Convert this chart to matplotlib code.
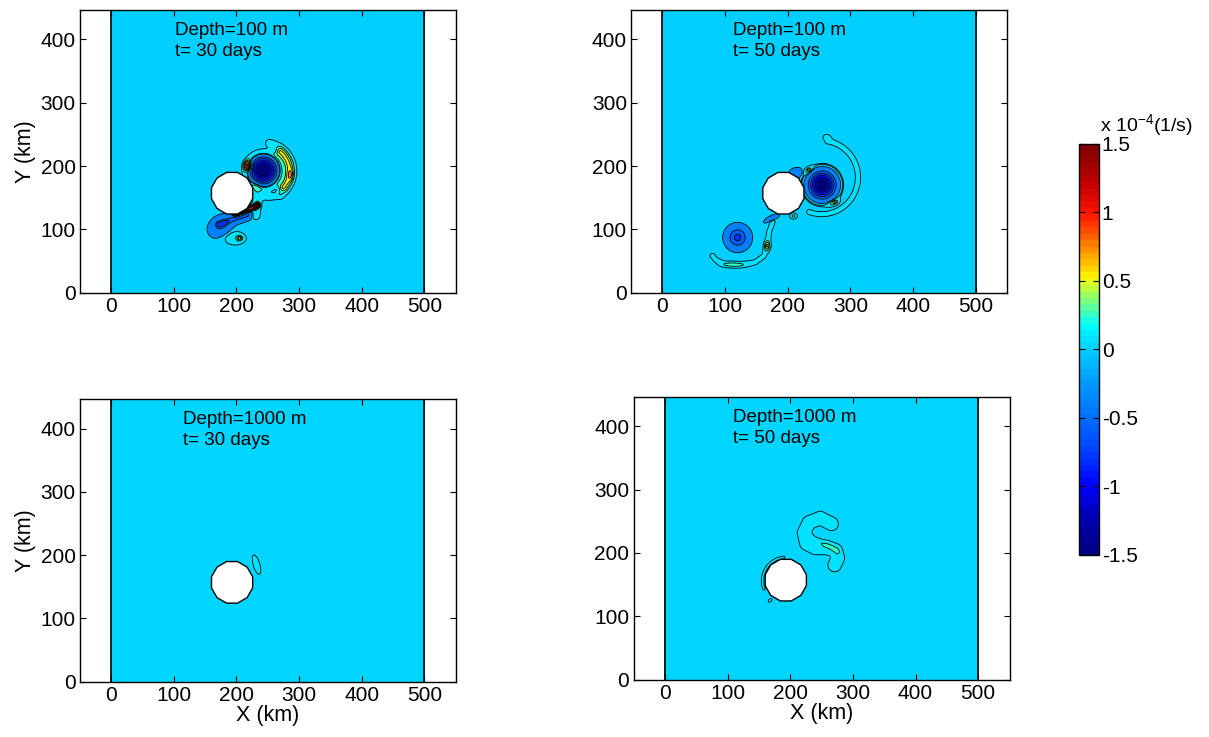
import numpy as np
import matplotlib
matplotlib.use('Agg')
import matplotlib.pyplot as plt
from matplotlib.colors import LinearSegmentedColormap, Normalize
from matplotlib.patches import RegularPolygon
import matplotlib.colorbar as mcolorbar

plt.rcParams['font.family'] = ['Liberation Sans', 'DejaVu Sans']
plt.rcParams['mathtext.fontset'] = 'custom'
plt.rcParams['mathtext.rm'] = 'Liberation Sans'
plt.rcParams['mathtext.default'] = 'regular'

# ---- data (vorticity in 1e-4 1/s, positions in km) ----
depth_labels = ['Depth=100 m', 'Depth=100 m', 'Depth=1000 m', 'Depth=1000 m']
time_labels = ['t= 30 days', 't= 50 days', 't= 30 days', 't= 50 days']
label_x = [102, 112, 114, 109]
# colour value of the quiet background in each panel
background = [0.01, 0.01, 0.03, 0.03]

island_xy = (193, 157)
island_r = 34

# contour levels; each band is filled with the colour of one value
levels = [-1.6, -1.3, -1.05, -0.8, -0.6, -0.4, -0.02, 0.08, 0.25, 0.4, 0.55,
          0.75, 0.95, 1.2, 1.6]
band_values = [-1.5, -1.3, -1.05, -0.8, -0.6, -0.4, None, 0.08, 0.25, 0.4, 0.55,
               0.75, 0.95, 1.2]

# blobs: x, y, sx, sy, angle, amplitude, shape exponent
blobs_100_30 = [
    (243, 193, 14, 14, 0, -1.5, 1),
    (218, 200, 4, 5, 0, 1.0, 1),
    (286, 186, 3, 6, 0, 0.3, 1),
    (176, 104, 10, 8, 30, -0.35, 1),
    (198, 86, 13, 8, 0, 0.2, 1),
    (205, 86, 3, 2.5, 0, 0.5, 1),
    (252, 152, 12, 5, 0, 0.18, 1),
]
# strands: list of points, half width, amplitude
strands_100_30 = [
    ([(172, 108), (195, 116), (218, 123)], 4, -0.5),
    ([(198, 124), (216, 130), (234, 138)], 2.5, 1.1),
    ([(232, 168), (233, 145), (231, 122)], 5, 0.2),
]
# arcs: cx, cy, radius, angle from, angle to, half width, amplitude
arcs_100_30 = [
    (245, 192, 44, -55, 80, 5, 0.2),
    (245, 192, 38, -40, 50, 5, 0.5),
    (243, 193, 29, 0, 360, 4, 0.35),
]

blobs_100_50 = [
    (255, 170, 14, 14, 0, -1.45, 1),
    (233, 193, 5, 3.5, 30, 0.25, 1),
    (234, 194, 2, 1.5, 0, 0.25, 1),
    (274, 142, 6, 3, 20, 0.3, 1),
    (275, 143, 2, 1.5, 0, 0.2, 1),
    (214, 189, 5, 3.5, 0, -0.35, 1),
    (120, 87, 12.6, 12.6, 0, -0.62, 1.5),
    (113, 44, 14, 3, 0, 0.2, 1),
    (167, 74, 3, 5, 0, 0.45, 1),
    (174, 117, 6, 2, 25, -0.3, 1),
    (209, 121, 4, 3, 0, 0.3, 1),
    (262, 246, 6, 4, 0, 0.12, 1),
]
strands_100_50 = [
    ([(176, 112), (170, 95), (168, 75), (162, 58), (148, 48), (125, 44),
      (100, 45), (85, 52), (80, 58)], 3.5, 0.15),
]
arcs_100_50 = [
    (254, 182, 58, -110, 80, 4, 0.14),
    (255, 170, 32, 0, 360, 4, 0.18),
]

blobs_1000_30 = [
    (232, 185, 5, 15, 16.5, 0.14, 1),
]
strands_1000_30 = []
arcs_1000_30 = []

blobs_1000_50 = [
    (168, 125, 4, 2.5, 40, 0.12, 1),
]
strands_1000_50 = [
    ([(266, 246), (248, 255), (230, 248), (222, 232), (226, 215), (240, 208),
      (258, 208), (272, 204), (276, 192), (271, 181)], 8, 0.2),
    ([(234, 224), (248, 217), (264, 211), (276, 203)], 3.5, 0.12),
]
arcs_1000_50 = [
    (193, 156, 37, 95, 200, 2.5, 0.11),
]

panels = [
    (blobs_100_30, strands_100_30, arcs_100_30),
    (blobs_100_50, strands_100_50, arcs_100_50),
    (blobs_1000_30, strands_1000_30, arcs_1000_30),
    (blobs_1000_50, strands_1000_50, arcs_1000_50),
]

# colours (position 0..1, rgb 0..255)
cb_pos = [0, 0.087, 0.167, 0.257, 0.333, 0.427, 0.5, 0.56, 0.597, 0.633,
          0.665, 0.68, 0.743, 0.79, 0.833, 0.913, 1]
cb_rgb = [(0, 0, 130), (0, 0, 180), (0, 0, 255), (0, 70, 255), (0, 110, 255),
          (0, 160, 255), (0, 205, 255), (0, 255, 255), (80, 255, 170),
          (150, 255, 100), (220, 255, 30), (255, 240, 0), (255, 150, 0),
          (255, 80, 0), (255, 20, 0), (190, 0, 0), (130, 0, 0)]

cb_ticks = [-1.5, -1, -0.5, 0, 0.5, 1, 1.5]
cb_ticklabels = ['-1.5', '-1', '-0.5', '0', '0.5', '1', '1.5']


def seg_dist(X, Y, p1, p2):
    dx, dy = p2[0] - p1[0], p2[1] - p1[1]
    t = np.clip(((X - p1[0]) * dx + (Y - p1[1]) * dy) / (dx * dx + dy * dy), 0, 1)
    return np.hypot(X - (p1[0] + t * dx), Y - (p1[1] + t * dy))


def strand(X, Y, pts, w, amp):
    d = np.full(X.shape, np.inf)
    for a, b in zip(pts[:-1], pts[1:]):
        d = np.minimum(d, seg_dist(X, Y, a, b))
    return amp * np.exp(-0.5 * (d / w) ** 2)


def build_field(X, Y, blobs, strands, arcs):
    Z = np.zeros(X.shape)
    for x0, y0, sx, sy, ang, amp, p in blobs:
        t = np.deg2rad(ang)
        u = (X - x0) * np.cos(t) + (Y - y0) * np.sin(t)
        v = -(X - x0) * np.sin(t) + (Y - y0) * np.cos(t)
        Z += amp * np.exp(-0.5 * ((u / sx) ** 2 + (v / sy) ** 2) ** p)
    for pts, w, amp in strands:
        Z += strand(X, Y, pts, w, amp)
    for cx, cy, r, a1, a2, w, amp in arcs:
        th = np.deg2rad(np.linspace(a1, a2, 60))
        pts = list(zip(cx + r * np.cos(th), cy + r * np.sin(th)))
        Z += strand(X, Y, pts, w, amp)
    return Z


anchors = [(p, tuple(c / 255 for c in rgb)) for p, rgb in zip(cb_pos, cb_rgb)]
cmap_bar = LinearSegmentedColormap.from_list('vort64', anchors, N=64)
cmap_fill = LinearSegmentedColormap.from_list('vort', anchors, N=256)
norm = Normalize(-1.5, 1.5)

x = np.arange(0, 501, 1.0)
y = np.arange(0, 447, 1.0)
X, Y = np.meshgrid(x, y)

fig = plt.figure(figsize=(12.09, 7.37), dpi=100)
positions = [[0.066, 0.603, 0.311, 0.383],
             [0.522, 0.603, 0.311, 0.383],
             [0.066, 0.075, 0.311, 0.383],
             [0.524, 0.078, 0.311, 0.383]]

for i, (blobs, strands, arcs) in enumerate(panels):
    ax = fig.add_axes(positions[i])
    Z = build_field(X, Y, blobs, strands, arcs)
    band_colors = [cmap_fill(norm(background[i] if v is None else v))
                   for v in band_values]
    ax.contourf(X, Y, Z, levels=levels, colors=band_colors)
    ax.contour(X, Y, Z, levels=levels, colors='k', linewidths=0.6,
               linestyles='solid')
    ax.plot([0, 0], [0, 446], color='k', lw=1.2)
    ax.plot([500, 500], [0, 446], color='k', lw=1.2)
    ax.add_patch(RegularPolygon(island_xy, numVertices=12, radius=island_r,
                                orientation=np.pi / 12, facecolor='white',
                                edgecolor='k', lw=1.0, zorder=5))
    ax.text(label_x[i], 407, depth_labels[i], fontsize=13.5, zorder=6)
    ax.text(label_x[i], 374, time_labels[i], fontsize=13.5, zorder=6)
    ax.set_xlim(-50, 550)
    ax.set_ylim(0, 446)
    ax.set_xticks([0, 100, 200, 300, 400, 500])
    ax.set_yticks([0, 100, 200, 300, 400])
    ax.tick_params(direction='in', top=True, right=True, length=4,
                   labelsize=15, pad=3)
    for s in ax.spines.values():
        s.set_linewidth(1.0)
    if i % 2 == 0:
        ax.set_ylabel('Y (km)', fontsize=15.5, labelpad=3)
    if i >= 2:
        ax.set_xlabel('X (km)', fontsize=15.5, labelpad=0)

cax = fig.add_axes([0.8925, 0.2470, 0.0165, 0.558])
cb = mcolorbar.ColorbarBase(cax, cmap=cmap_bar, norm=norm)
cb.set_ticks(cb_ticks)
cb.set_ticklabels(cb_ticklabels)
cax.tick_params(direction='in', left=True, right=True, length=4,
                labelsize=15, pad=2)
cb.outline.set_linewidth(1.0)
fig.text(1100 / 1209, (737 - 131) / 737, 'x 10$^{-4}$(1/s)', fontsize=14,
         va='baseline')

fig.savefig('out.png', dpi=100)
